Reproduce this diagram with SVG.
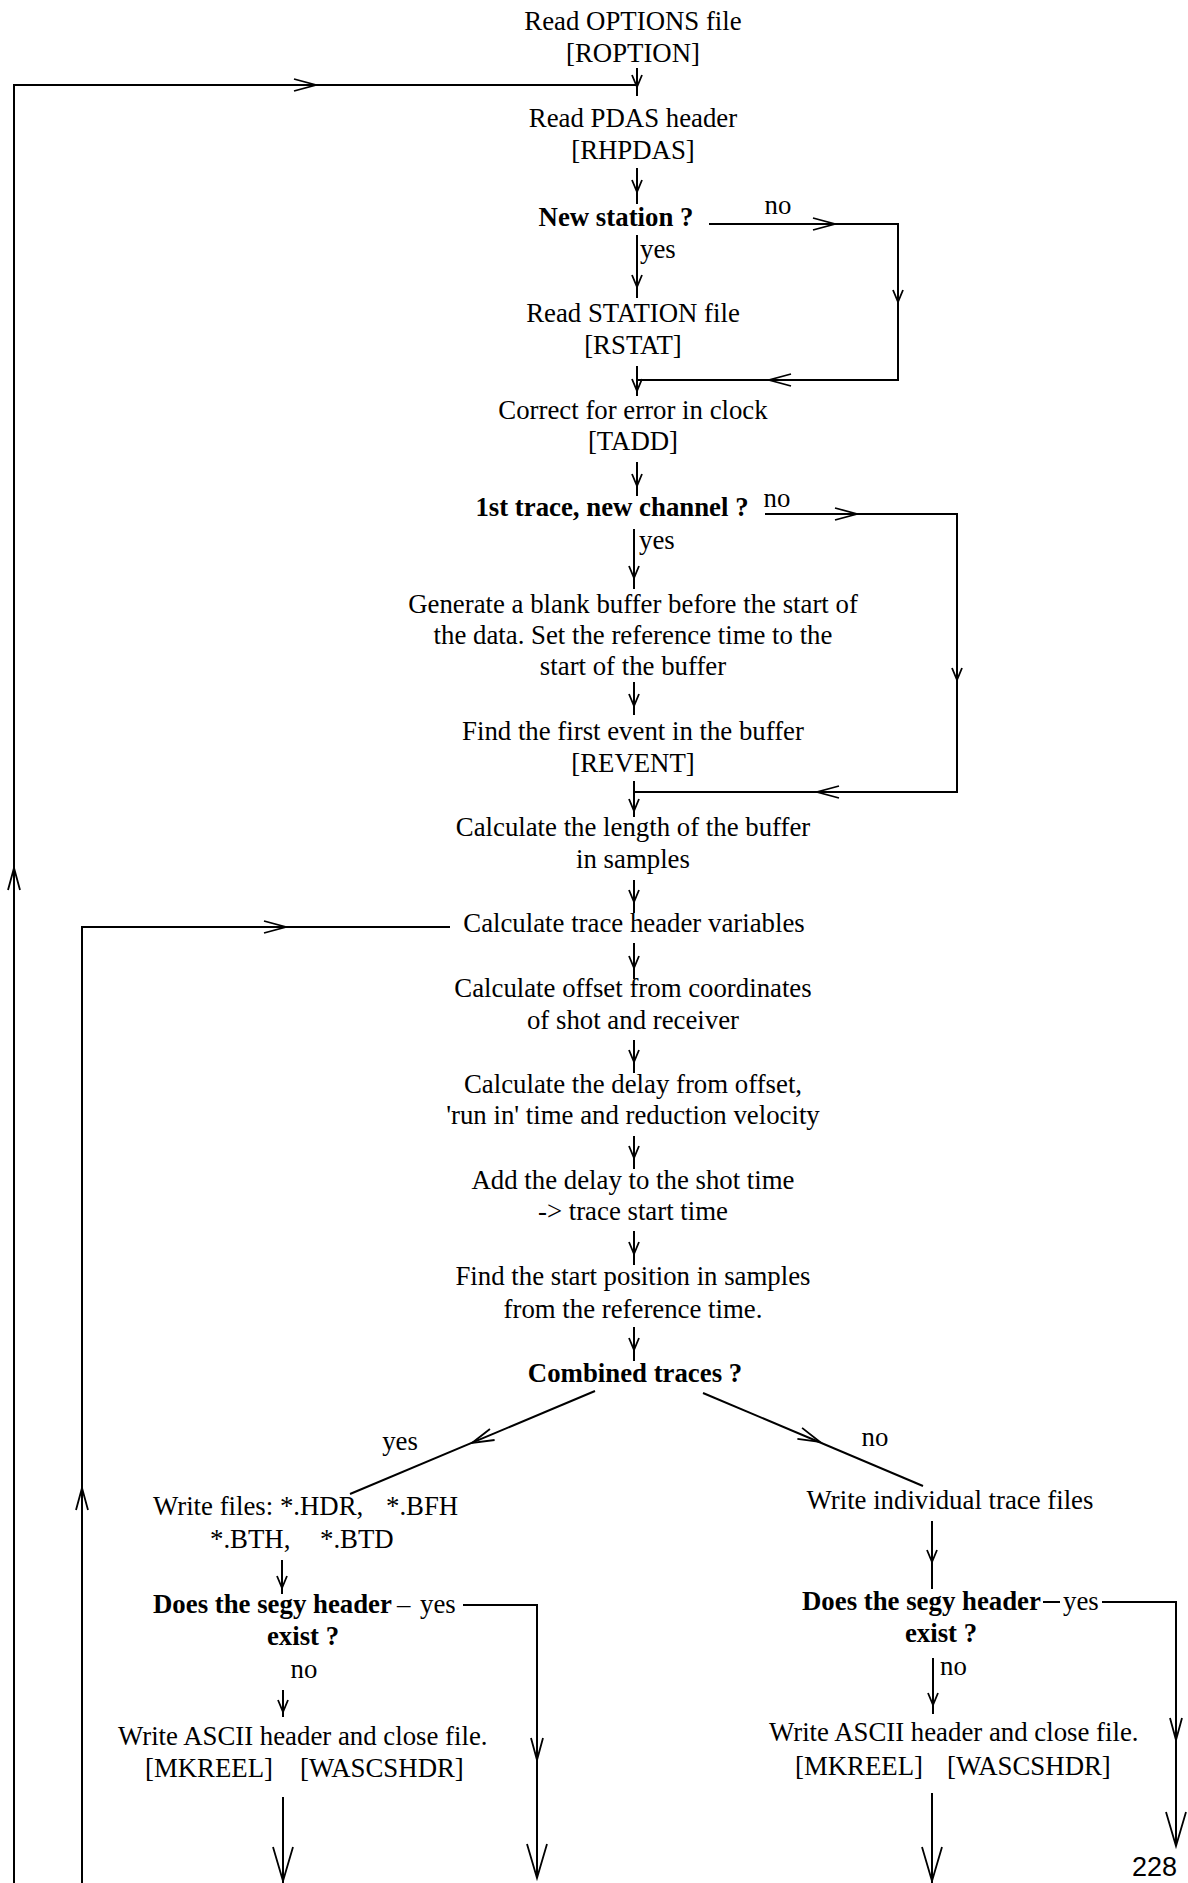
<svg xmlns="http://www.w3.org/2000/svg" xmlns:xlink="http://www.w3.org/1999/xlink" width="1188" height="1883" viewBox="0 0 1188 1883">
<style>
.t{font-family:"Liberation Serif","Times New Roman",serif;font-size:26.8px;fill:#000}
.b{font-weight:bold}
.c{text-anchor:middle}
.ln{stroke:#000;stroke-width:2;fill:none}
.ah{stroke:#000;stroke-width:1.8;fill:none;stroke-linejoin:miter}
.pg{font-family:"Liberation Sans",Arial,sans-serif;font-size:27px;fill:#000}
</style>
<defs>
<path id="ahS" class="ah" d="M-12,-5 L0,0 L-12,5"/>
<path id="ahL" class="ah" d="M-22,-6 L0,0 L-22,6"/>
<path id="ahB" class="ah" d="M-34,-10 L0,0 L-34,10"/>
</defs>
<rect width="1188" height="1883" fill="#fff"/>

<g id="n-roption"><text class="t c" x="633" y="30">Read OPTIONS file</text><text class="t c" x="633" y="62">[ROPTION]</text></g>
<g id="n-rhpdas"><text class="t c" x="633" y="127">Read PDAS header</text><text class="t c" x="633" y="159">[RHPDAS]</text></g>
<g id="n-newstation"><text class="t b c" x="616" y="226">New station ?</text></g>
<g id="n-rstat"><text class="t c" x="633" y="322">Read STATION file</text><text class="t c" x="633" y="354">[RSTAT]</text></g>
<g id="n-tadd"><text class="t c" x="633" y="419">Correct for error in clock</text><text class="t c" x="633" y="450">[TADD]</text></g>
<g id="n-firsttrace"><text class="t b c" x="612" y="516">1st trace, new channel ?</text></g>
<g id="n-blank"><text class="t c" x="633" y="613">Generate a blank buffer before the start of</text><text class="t c" x="633" y="644">the data. Set the reference time to the</text><text class="t c" x="633" y="675">start of the buffer</text></g>
<g id="n-revent"><text class="t c" x="633" y="740">Find the first event in the buffer</text><text class="t c" x="633" y="772">[REVENT]</text></g>
<g id="n-length"><text class="t c" x="633" y="836">Calculate the length of the buffer</text><text class="t c" x="633" y="868">in samples</text></g>
<g id="n-header"><text class="t c" x="634" y="932">Calculate trace header variables</text></g>
<g id="n-offset"><text class="t c" x="633" y="997">Calculate offset from coordinates</text><text class="t c" x="633" y="1029">of shot and receiver</text></g>
<g id="n-delay"><text class="t c" x="633" y="1093">Calculate the delay from offset,</text><text class="t c" x="633" y="1124">'run in' time and reduction velocity</text></g>
<g id="n-adddelay"><text class="t c" x="633" y="1189">Add the delay to the shot time</text><text class="t c" x="633" y="1220">-&gt; trace start time</text></g>
<g id="n-startpos"><text class="t c" x="633" y="1285">Find the start position in samples</text><text class="t c" x="633" y="1318">from the reference time.</text></g>
<g id="n-combined"><text class="t b c" x="635" y="1382">Combined traces ?</text></g>

<g id="n-writefiles"><text class="t" x="153" y="1515">Write files: *.HDR,</text><text class="t" x="386" y="1515">*.BFH</text><text class="t" x="210" y="1548">*.BTH,</text><text class="t" x="320" y="1548">*.BTD</text></g>
<g id="n-segy-left"><text class="t b" x="153" y="1613">Does the segy header</text><text class="t b c" x="303" y="1645">exist ?</text></g>
<g id="n-ascii-left"><text class="t" x="118" y="1745">Write ASCII header and close file.</text><text class="t" x="145" y="1777">[MKREEL]</text><text class="t" x="300" y="1777">[WASCSHDR]</text></g>

<g id="n-individual"><text class="t c" x="950" y="1509">Write individual trace files</text></g>
<g id="n-segy-right"><text class="t b" x="802" y="1610">Does the segy header</text><text class="t b c" x="941" y="1642">exist ?</text></g>
<g id="n-ascii-right"><text class="t" x="769" y="1741">Write ASCII header and close file.</text><text class="t" x="795" y="1775">[MKREEL]</text><text class="t" x="947" y="1775">[WASCSHDR]</text></g>

<g id="page-number"><text class="pg" x="1132" y="1876">228</text></g>

<g id="connectors">
<path class="ln" d="M14,1883 L14,85 L637,85"/>
<use xlink:href="#ahL" transform="translate(316,85)"/>
<use xlink:href="#ahL" transform="translate(14,868) rotate(-90)"/>
<path class="ln" d="M637,68 L637,96"/>
<use xlink:href="#ahS" transform="translate(637,87) rotate(90)"/>
<path class="ln" d="M637,168 L637,204"/>
<use xlink:href="#ahS" transform="translate(637,192) rotate(90)"/>
<path class="ln" d="M709,224 L898,224 L898,380 L637,380"/>
<use xlink:href="#ahL" transform="translate(835,224)"/>
<use xlink:href="#ahS" transform="translate(898,302) rotate(90)"/>
<use xlink:href="#ahL" transform="translate(769,380) rotate(180)"/>
<text class="t c" x="778" y="214">no</text>
<path class="ln" d="M637,235 L637,298"/>
<use xlink:href="#ahS" transform="translate(637,287) rotate(90)"/>
<text class="t" x="640" y="258">yes</text>
<path class="ln" d="M637,366 L637,396"/>
<use xlink:href="#ahS" transform="translate(637,391) rotate(90)"/>
<path class="ln" d="M637,462 L637,496"/>
<use xlink:href="#ahS" transform="translate(637,486) rotate(90)"/>
<path class="ln" d="M765,514 L957,514 L957,792 L634,792"/>
<use xlink:href="#ahL" transform="translate(857,514)"/>
<use xlink:href="#ahS" transform="translate(957,680) rotate(90)"/>
<use xlink:href="#ahL" transform="translate(817,792) rotate(180)"/>
<text class="t c" x="777" y="507">no</text>
<path class="ln" d="M634,529 L634,589"/>
<use xlink:href="#ahS" transform="translate(634,578) rotate(90)"/>
<text class="t" x="639" y="549">yes</text>
<path class="ln" d="M634,682 L634,715"/>
<use xlink:href="#ahS" transform="translate(634,706) rotate(90)"/>
<path class="ln" d="M634,781 L634,817"/>
<use xlink:href="#ahS" transform="translate(634,811) rotate(90)"/>
<path class="ln" d="M634,880 L634,913"/>
<use xlink:href="#ahS" transform="translate(634,902) rotate(90)"/>
<path class="ln" d="M82,1883 L82,927 L450,927"/>
<use xlink:href="#ahL" transform="translate(286,927)"/>
<use xlink:href="#ahL" transform="translate(82,1488) rotate(-90)"/>
<path class="ln" d="M634,943 L634,979"/>
<use xlink:href="#ahS" transform="translate(634,968) rotate(90)"/>
<path class="ln" d="M634,1040 L634,1073"/>
<use xlink:href="#ahS" transform="translate(634,1062) rotate(90)"/>
<path class="ln" d="M634,1136 L634,1169"/>
<use xlink:href="#ahS" transform="translate(634,1158) rotate(90)"/>
<path class="ln" d="M634,1231 L634,1265"/>
<use xlink:href="#ahS" transform="translate(634,1254) rotate(90)"/>
<path class="ln" d="M634,1327 L634,1361"/>
<use xlink:href="#ahS" transform="translate(634,1350) rotate(90)"/>
<path class="ln" d="M595,1391 L350,1494"/>
<use xlink:href="#ahL" transform="translate(472,1443) rotate(157.2)"/>
<text class="t c" x="400" y="1450">yes</text>
<path class="ln" d="M703,1393 L923,1486"/>
<use xlink:href="#ahL" transform="translate(820,1442) rotate(22.9)"/>
<text class="t c" x="875" y="1446">no</text>
<path class="ln" d="M282,1560 L282,1594"/>
<use xlink:href="#ahS" transform="translate(282,1588) rotate(90)"/>
<text class="t" x="397" y="1613">–</text>
<text class="t" x="420" y="1613">yes</text>
<path class="ln" d="M463,1605 L537,1605 L537,1878"/>
<use xlink:href="#ahL" transform="translate(537,1760) rotate(90)"/>
<use xlink:href="#ahB" transform="translate(537,1878) rotate(90)"/>
<text class="t c" x="304" y="1678">no</text>
<path class="ln" d="M283,1690 L283,1717"/>
<use xlink:href="#ahS" transform="translate(283,1712) rotate(90)"/>
<path class="ln" d="M283,1797 L283,1883"/>
<use xlink:href="#ahB" transform="translate(283,1881) rotate(90)"/>
<path class="ln" d="M932,1521 L932,1589"/>
<use xlink:href="#ahS" transform="translate(932,1562) rotate(90)"/>
<path class="ln" d="M1043,1602 L1060,1602"/>
<text class="t" x="1063" y="1610">yes</text>
<path class="ln" d="M1102,1602 L1176,1602 L1176,1846"/>
<use xlink:href="#ahL" transform="translate(1176,1740) rotate(90)"/>
<use xlink:href="#ahB" transform="translate(1176,1846) rotate(90)"/>
<path class="ln" d="M933,1658 L933,1714"/>
<use xlink:href="#ahS" transform="translate(933,1705) rotate(90)"/>
<text class="t" x="940" y="1675">no</text>
<path class="ln" d="M932,1793 L932,1883"/>
<use xlink:href="#ahB" transform="translate(932,1881) rotate(90)"/>
</g>
</svg>
